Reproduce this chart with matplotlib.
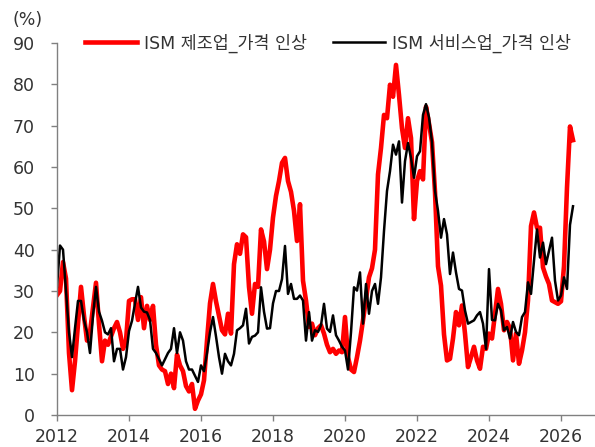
import matplotlib
matplotlib.use("Agg")
import matplotlib.pyplot as plt
import numpy as np

plt.rcParams['font.family'] = ['DejaVu Sans', 'Noto Sans CJK KR']

start_year = 2012
manufacturing = [
    29, 30, 37, 33, 15, 6, 13, 22, 31, 24, 18, 20,
    26, 32, 22, 13, 18, 17, 19, 21, 22.5, 20, 16, 18,
    27.6, 28, 28, 23, 28.5, 21, 26.4, 23, 26.4, 17, 12, 11,
    10.6, 7.5, 10, 6.5, 14.6, 12, 10.6, 7, 5.7, 7.5, 1.5, 3.5,
    5, 8.4, 18, 27, 31.7, 27.5, 24, 20.5, 19.5, 24.5, 19.7, 36.5,
    41.3, 39, 43.7, 43, 31, 24.5, 31.7, 31, 44.9, 42, 35.3, 40,
    47.8, 53, 56.6, 61, 62.2, 56.6, 54, 49.4, 42.1, 51, 32.5, 27.7,
    21.3, 22.1, 19.3, 21, 21.7, 19.7, 17, 15.2, 16, 14.8, 15.6, 15.2,
    23.7, 14, 11, 10.4, 14, 18, 22.9, 28, 33.3, 35.5, 40, 58.2,
    64.6, 72.6, 71.8, 79.9, 77, 84.7, 77.4, 69.4, 64.6, 71.8, 67, 47.4,
    56.6, 59, 57, 74.6, 70.5, 66, 54, 36, 31.3, 19.5, 13.2, 13.6,
    18.5, 24.9, 21.7, 26.5, 19.7, 11.6, 14, 16.5, 13.2, 11.2, 16.5, 16,
    19.7, 18.5, 24.5, 30.5, 26.9, 20.5, 22.5, 21, 13.2, 19.7, 12.4, 15.6,
    20, 27.7, 45.7, 49, 45.3, 45.3, 35.7, 33.5, 31.7, 27.7, 27.3, 26.9,
    27.5, 36, 55, 69.8, 66.5,
]
services = [
    31, 41, 40, 30, 20, 14, 21, 27.6, 27.6, 23, 20, 15,
    24, 31, 25, 22.8, 20, 19.5, 21, 13, 16, 16, 11, 14,
    20.3, 22.8, 27, 31, 26, 25, 24.8, 23, 16, 15, 13.5, 12,
    13.5, 15, 16, 21, 15, 20, 18, 13, 11, 11, 9.5, 8,
    12, 10.6, 15, 20, 23.7, 19, 14, 10, 14.8, 13, 12, 14.8,
    20.5, 21, 21.7, 25.7, 17.3, 18.9, 19.2, 20, 30.9, 25, 20.9, 21,
    27, 30, 30, 32.9, 40.9, 29.3, 31.7, 28.1, 28.1, 28.9, 27.7, 18,
    24.9, 18, 20.5, 20.1, 21.7, 26.9, 20.9, 20.1, 24.1, 19.3, 18, 16.5,
    15.6, 11, 20, 30.9, 30.1, 34.5, 22.1, 31.7, 24.5, 30, 31.7, 26.9,
    33.3, 44.5, 54.2, 59, 65.4, 63, 66.2, 51.4, 61.4, 65.8, 62.2, 57.4,
    62.6, 63.8, 72.6, 75.2, 72, 66, 54.2, 49.4, 42.9, 47.4, 43.7, 34.1,
    39.3, 34.5, 30.5, 30.1, 25.3, 22.1, 22.5, 22.9, 24.1, 24.9, 22.1, 16,
    35.3, 23, 22.9, 26.9, 25.3, 20.5, 21.3, 18.5, 22.5, 20.1, 19.3, 23.7,
    24.9, 32.1, 29.3, 37.3, 44.9, 38.1, 41.7, 36.5, 39.7, 42.9, 32.5, 27.7,
    28.9, 33.3, 30.5, 46, 50.5,
]
series_names = ["ISM 제조업_가격 인상", "ISM 서비스업_가격 인상"]
x_ticks = [2012, 2014, 2016, 2018, 2020, 2022, 2024, 2026]
y_ticks = [0, 10, 20, 30, 40, 50, 60, 70, 80, 90]

t_m = start_year + np.arange(len(manufacturing)) / 12.0
t_s = start_year + np.arange(len(services)) / 12.0

fig = plt.figure(figsize=(5.95, 4.47), dpi=100)
ax = fig.add_axes([57/595, 32/447, 1 - 57/595, (415-43)/447])

ax.plot(t_m, manufacturing, color="#FF0000", lw=3.3, label=series_names[0], solid_joinstyle='round')
ax.plot(t_s, services, color="#000000", lw=1.8, label=series_names[1], solid_joinstyle='round')

ax.set_ylim(0, 90)
ax.set_xlim(2012, 2012 + 538/36)
ax.set_xticks(x_ticks)
ax.set_yticks(y_ticks)
ax.set_xticklabels([str(v) for v in x_ticks])
ax.set_yticklabels([str(v) for v in y_ticks])

for s in ["top", "right"]:
    ax.spines[s].set_visible(False)
for s in ["left", "bottom"]:
    ax.spines[s].set_color("#808080")
    ax.spines[s].set_linewidth(1.0)

ax.tick_params(axis="both", colors="#808080", labelcolor="#333333", labelsize=12.5,
               length=4, width=1.0, direction="out")
ax.tick_params(axis="x", pad=5)
ax.tick_params(axis="y", pad=12)

fig.text(12/595, 1 - 20/447, "(%)", fontsize=12.5, color="#333333", va="center", ha="left")

fig.legend(loc="center", bbox_to_anchor=(328/595, 1 - 43/447), ncol=2, frameon=False,
           fontsize=12.5, handlelength=3.0, handletextpad=0.4, columnspacing=1.45,
           labelcolor="#333333")

fig.savefig("out.png", dpi=100)
